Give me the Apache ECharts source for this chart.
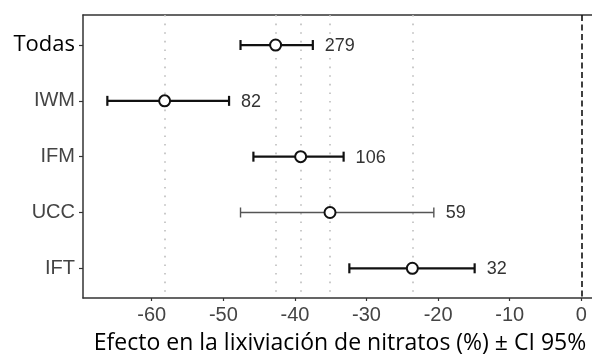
<!DOCTYPE html>
<html><head><meta charset="utf-8">
<script src="https://cdn.jsdelivr.net/npm/echarts@6/dist/echarts.min.js"></script>
<style>html,body{margin:0;padding:0;background:#fff}#c{width:592px;height:356px}</style>
</head><body><div id="c"></div>
<script>
const categories = ['Todas', 'IWM', 'IFM', 'UCC', 'IFT'];
const means = [-42.7, -58.2, -39.2, -35.1, -23.6];
const lows = [-47.6, -66.2, -45.8, -47.6, -32.4];
const highs = [-37.5, -49.2, -33.2, -20.6, -14.9];
const counts = [279, 82, 106, 59, 32];
const xTicks = [-60, -50, -40, -30, -20, -10, 0];
const xTitle = 'Efecto en la lixiviación de nitratos (%) ± CI 95%';

const XMIN = -69.6, XMAX = 1.91;
const chart = echarts.init(document.getElementById('c'), null, {renderer: 'canvas'});
const axisColor = '#333';
const catIdx = categories.map((c, i) => i);
const titleFont = '"Open Sans"';

const option = {
  animation: false,
  backgroundColor: '#fff',
  grid: {left: 83, right: -3, top: 15, bottom: 58, containLabel: false, outerBoundsMode: 'none'},
  xAxis: [{
    type: 'value', min: XMIN, max: XMAX, position: 'bottom',
    axisLine: {show: true, onZero: false, lineStyle: {color: axisColor, width: 1.5}},
    axisTick: {show: true, length: 3, customValues: xTicks, lineStyle: {color: axisColor, width: 1.2}},
    axisLabel: {customValues: xTicks, color: '#444', fontSize: 20, fontFamily: '"Liberation Sans", Arial', margin: 7},
    splitLine: {show: false},
    name: xTitle, nameLocation: 'middle', nameGap: 34,
    nameTextStyle: {color: '#000', fontSize: 23, fontFamily: titleFont, padding: [0, 0, 0, 2]}
  }, {
    type: 'value', min: XMIN, max: XMAX, position: 'top',
    axisLine: {show: true, onZero: false, lineStyle: {color: axisColor, width: 1.5}},
    axisTick: {show: false}, axisLabel: {show: false}, splitLine: {show: false}
  }],
  yAxis: {
    type: 'value', inverse: true, min: -0.538, max: 4.532,
    axisLine: {show: true, onZero: false, lineStyle: {color: axisColor, width: 1.5}},
    axisTick: {show: true, length: 4, customValues: catIdx, lineStyle: {color: axisColor, width: 1.2}},
    axisLabel: {
      customValues: catIdx, margin: 8,
      formatter: v => v === 0 ? '{t|' + categories[v] + '}' : '{c|' + categories[v] + '}',
      rich: {
        t: {fontSize: 22, fontFamily: titleFont, color: '#000'},
        c: {fontSize: 20, fontFamily: '"Liberation Sans", Arial', color: '#444'}
      }
    },
    splitLine: {show: false}
  },
  series: [{
    type: 'custom',
    data: categories.map((c, i) => [lows[i], highs[i], i, counts[i]]),
    encode: {x: [0, 1], y: 2},
    renderItem: function (params, api) {
      const i = api.value(2);
      const p1 = api.coord([api.value(0), i]);
      const p2 = api.coord([api.value(1), i]);
      const thin = i === 3;
      const color = thin ? '#555' : '#111';
      const lw = thin ? 1.4 : 2.2;
      const h = 5;
      const st = {stroke: color, lineWidth: lw};
      return {type: 'group', children: [
        {type: 'line', shape: {x1: p1[0], y1: p1[1], x2: p2[0], y2: p2[1]}, style: st},
        {type: 'line', shape: {x1: p1[0], y1: p1[1] - h, x2: p1[0], y2: p1[1] + h}, style: st},
        {type: 'line', shape: {x1: p2[0], y1: p2[1] - h, x2: p2[0], y2: p2[1] + h}, style: st},
        {type: 'text', style: {text: String(api.value(3)), x: p2[0] + 12, y: p2[1] + 1, verticalAlign: 'middle', textAlign: 'left', font: '18px "Liberation Sans", Arial', fill: '#333'}}
      ]};
    },
    z: 3
  }, {
    type: 'scatter',
    data: means.map((m, i) => [m, i]),
    symbol: 'circle', symbolSize: 11,
    itemStyle: {color: '#fff', borderColor: '#111', borderWidth: 2, opacity: 1},
    z: 4,
    markLine: {
      silent: true, symbol: 'none', label: {show: false},
      data: means.map(m => ({xAxis: m, lineStyle: {type: [1.6, 7], color: '#bdbdbd', width: 1.6}}))
        .concat([{xAxis: 0, lineStyle: {type: [6, 3.5], color: '#111', width: 1.6}}]),
      z: 1
    }
  }]
};
chart.setOption(option);
</script></body></html>
